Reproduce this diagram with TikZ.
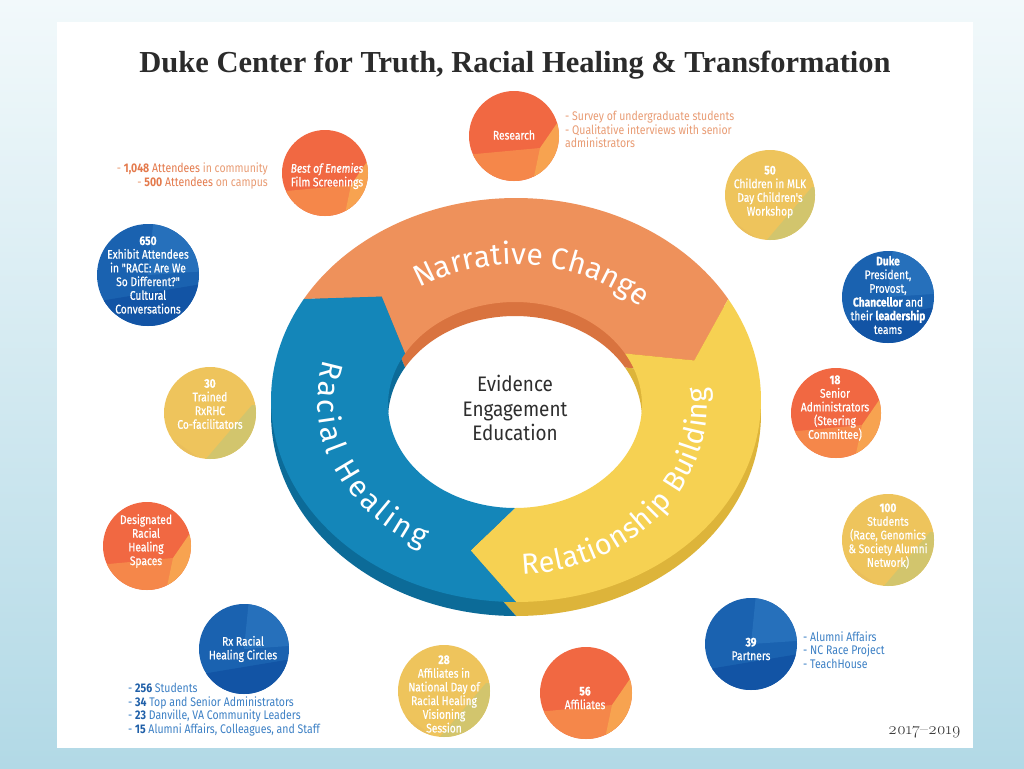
\documentclass[tikz,border=0pt]{standalone}
\usepackage{fontspec}
\setmainfont{Liberation Serif}
\newfontfamily\bubfont[FakeStretch=0.82, FakeBold=0.6]{Fira Sans}
\newfontfamily\notefont[FakeStretch=0.84]{Fira Sans}
\newfontfamily\ringfontfam{Fira Sans}
\newfontfamily\midfont[FakeStretch=0.9]{Fira Sans}
\newfontfamily\yearfont[Numbers=OldStyle]{Latin Modern Roman}
\usetikzlibrary{decorations.text,calc}
\definecolor{orTop}{HTML}{EE915B}
\definecolor{orSide}{HTML}{D9733F}
\definecolor{blTop}{HTML}{1486B9}
\definecolor{blSide}{HTML}{0C6B98}
\definecolor{yeTop}{HTML}{F6D152}
\definecolor{yeSide}{HTML}{DDB43A}
\definecolor{orA}{HTML}{F16842}
\definecolor{orB}{HTML}{F5874A}
\definecolor{orC}{HTML}{F7A350}
\definecolor{yeA}{HTML}{EEC45C}
\definecolor{yeB}{HTML}{D2C56D}
\definecolor{yeC}{HTML}{EABF5C}
\definecolor{blA}{HTML}{1A62B0}
\definecolor{blB}{HTML}{2670BB}
\definecolor{blC}{HTML}{1254A5}
\definecolor{sideOr}{HTML}{E99C74}
\definecolor{sideOrB}{HTML}{E47A4C}
\definecolor{sideBl}{HTML}{3C80C5}
\definecolor{sideBlB}{HTML}{1F5FA8}
\definecolor{titleC}{HTML}{2B2B2B}
\definecolor{bgTop}{HTML}{F2F9FB}
\definecolor{bgBot}{HTML}{B2D9E6}
\newcommand\ringseg[4]{%
  \fill[#3] plot[domain=#1:#2, samples=90] ({516+245*cos(\x)},{400+#4+202*sin(\x)})
   -- ({515.5+186*cos(#2+14)},{402.5+#4+152.5*sin(#2+14)})
   -- plot[domain=#2:#1, samples=90] ({515+127*cos(\x)},{405+#4+103*sin(\x)})
   -- ({515.5+186*cos(#1+14)},{402.5+#4+152.5*sin(#1+14)}) -- cycle;}
\newcommand\ringtext[6]{%
  \path[decorate, decoration={text along path, text align=fit to path,
    text={|\ringfontfam\fontsize{#6}{#6}\selectfont\color{white}|#1}}]
    plot[domain=#2:#3, samples=80] ({515.5+#4*cos(\x)},{402.5+#5*sin(\x)});}
\tikzset{
  bub/.style={circle, inner sep=0pt, draw=none},
  orbub/.style={bub, fill=orA, path picture={\begin{scope}[shift={(path picture bounding box.center)}]
      \fill[orB] (-60,20) -- (26,12) -- (60,60) -- (-60,60) -- cycle;
      \fill[orC] (26,12) -- (48,-20) -- (60,-20) -- (60,60) -- (16,60) -- cycle;
    \end{scope}}},
  yebub/.style={bub, fill=yeA, path picture={\begin{scope}[shift={(path picture bounding box.center)}]
      \fill[yeC] (-60,10) -- (10,60) -- (-60,60) -- cycle;
      \fill[yeB] (42,-8) -- (-16,60) -- (60,60) -- (60,-8) -- cycle;
    \end{scope}}},
  blbub/.style={bub, fill=blA, path picture={\begin{scope}[shift={(path picture bounding box.center)}]
      \fill[blB] (0,0) -- (6,-60) -- (60,-60) -- (60,-4) -- cycle;
      \fill[blC] (-60,28) -- (60,8) -- (60,60) -- (-60,60) -- cycle;
    \end{scope}}},
  bubtext/.style={text=white, align=center, inner sep=0pt,
    font=\bubfont\fontsize{12.5}{13.7}\selectfont},
  notetext/.style={align=left, inner sep=0pt,
    font=\notefont\fontsize{12.5}{13.7}\selectfont},
}
\begin{document}
\begin{tikzpicture}[x=1pt,y=-1pt]
\useasboundingbox (0,0) rectangle (1024,768);
\shade[top color=bgTop, bottom color=bgBot] (0,0) rectangle (1024,768);
\fill[white] (57,22) rectangle (973,748);
% title
\node[text=titleC, font=\bfseries\fontsize{30.5}{30.5}\selectfont, inner sep=0pt] (title) at (515,65) {Duke Center for Truth, Racial Healing \& Transformation};
% ring: sides
\ringseg{210}{330}{orSide}{14}
\ringseg{330}{450}{yeSide}{14}
\ringseg{90}{210}{blSide}{14}
% ring: top faces
\ringseg{210}{330}{orTop}{0}
\ringseg{330}{450}{yeTop}{0}
\ringseg{90}{210}{blTop}{0}
\ringtext{Narrative Change}{236}{316}{172}{138}{30}
\ringtext{Racial Healing}{195}{118}{198}{164}{30}
\ringtext{Relationship Building}{88}{-5}{192}{172}{29}
\node[text=black!82, align=center, font=\midfont\fontsize{21}{24.5}\selectfont, inner sep=0pt] (core) at (515,408) {Evidence\\Engagement\\Education};
% bubbles
\node[orbub, minimum size=90pt] (research) at (514,136) {};
\node[orbub, minimum size=86pt] (enemies) at (325,173) {};
\node[blbub, minimum size=102pt] (exhibit) at (148,275) {};
\node[yebub, minimum size=90pt] (children) at (770,195) {};
\node[blbub, minimum size=92pt] (duke) at (888,297) {};
\node[yebub, minimum size=92pt] (trained) at (210,413) {};
\node[orbub, minimum size=90pt] (senior) at (836,413) {};
\node[orbub, minimum size=88pt] (designated) at (147,546) {};
\node[yebub, minimum size=92pt] (students) at (888,540) {};
\node[blbub, minimum size=90pt] (rxcircles) at (244,649) {};
\node[yebub, minimum size=92pt] (affilA) at (444,691) {};
\node[orbub, minimum size=92pt] (affilB) at (586,693) {};
\node[blbub, minimum size=92pt] (partners) at (751,644) {};
% bubble texts
\node[bubtext] (researchT) at (514,135) {Research};
\node[bubtext] (enemiesT) at (327,176) {\textit{Best of Enemies}\\Film Screenings};
\node[bubtext] (exhibitT) at (148,275) {\textbf{650}\\Exhibit Attendees\\in "RACE: Are We\\So Different?"\\Cultural\\Conversations};
\node[bubtext] (childrenT) at (770,192) {\textbf{50}\\Children in MLK\\Day Children's\\Workshop};
\node[bubtext] (dukeT) at (888,295) {\textbf{Duke}\\President,\\Provost,\\\textbf{Chancellor} and\\their \textbf{leadership}\\teams};
\node[bubtext] (trainedT) at (210,404) {\textbf{30}\\Trained\\RxRHC\\Co-facilitators};
\node[bubtext] (seniorT) at (835,408) {\textbf{18}\\Senior\\Administrators\\(Steering\\Committee)};
\node[bubtext] (designatedT) at (146,541) {Designated\\Racial\\Healing\\Spaces};
\node[bubtext] (studentsT) at (888,536) {\textbf{100}\\Students\\(Race, Genomics\\\& Society Alumni\\Network)};
\node[bubtext] (rxcirclesT) at (243,649) {Rx Racial\\Healing Circles};
\node[bubtext] (affilAT) at (444,694) {\textbf{28}\\Affiliates in\\National Day of\\Racial Healing\\Visioning\\Session};
\node[bubtext] (affilBT) at (585,698) {\textbf{56}\\Affiliates};
\node[bubtext] (partnersT) at (751,649) {\textbf{39}\\Partners};
% side notes
\node[notetext, text=sideOr, anchor=north west] (researchN) at (565,111) {- Survey of undergraduate students\\- Qualitative interviews with senior\\administrators};
\node[notetext, text=sideOr, align=right, anchor=east] (enemiesN) at (268,176) {- {\color{sideOrB}\textbf{1,048} Attendees} in community\\- {\color{sideOrB}\textbf{500} Attendees} on campus};
\node[notetext, text=sideBl, anchor=north west] (rxN) at (128,683) {- {\color{sideBlB}\textbf{256}} Students\\- {\color{sideBlB}\textbf{34}} Top and Senior Administrators\\- {\color{sideBlB}\textbf{23}} Danville, VA Community Leaders\\- {\color{sideBlB}\textbf{15}} Alumni Affairs, Colleagues, and Staff};
\node[notetext, text=sideBl, anchor=west] (partnersN) at (803,650) {- Alumni Affairs\\- NC Race Project\\- TeachHouse};
\node[text=black!80, font=\yearfont\fontsize{17}{17}\selectfont, anchor=east, inner sep=0pt] (year) at (961,732) {2017–2019};
\end{tikzpicture}
\end{document}
